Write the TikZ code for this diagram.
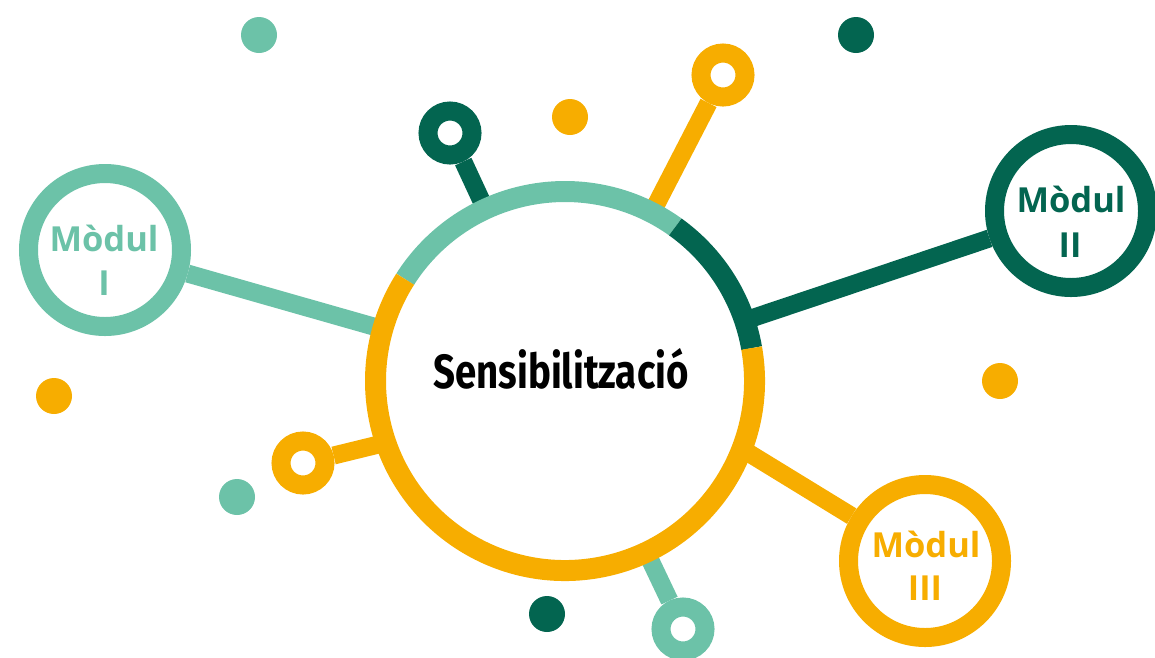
\documentclass[tikz,border=0pt]{standalone}
\usepackage{fontspec}
\usepackage{graphicx}
\newfontfamily\modfont{Open Sans}
\newfontfamily\titlefont{Fira Sans}
\definecolor{mteal}{HTML}{6CC2A8}
\definecolor{mdark}{HTML}{036550}
\definecolor{morange}{HTML}{F7AD00}
\begin{document}
\begin{tikzpicture}[x=1pt,y=-1pt,
  spoke/.style={line width=18pt},
  modring/.style={circle, draw=#1, fill=white, line width=19pt, minimum size=153pt, inner sep=0pt},
  smallring/.style={circle, draw=#1, fill=white, line width=19pt, minimum size=44pt, inner sep=0pt},
  fdot/.style={circle, fill, minimum size=36pt, inner sep=0pt},
  modtext/.style={font=\modfont\bfseries\fontsize{34.5}{40}\selectfont, anchor=base, inner sep=0pt},
  ringseg/.style={line width=21pt},
]
\useasboundingbox (0,0) rectangle (1155,657);
% decorative dots
\node[fdot, mteal] (d1) at (259,35) {};
\node[fdot, mdark] (d2) at (856,35) {};
\node[fdot, morange] (d3) at (570,117) {};
\node[fdot, morange] (d4) at (54,396) {};
\node[fdot, mteal] (d5) at (237,497) {};
\node[fdot, mdark] (d6) at (547,614) {};
\node[fdot, morange] (d7) at (1000,381) {};
% central node
\node[circle, minimum size=379pt, inner sep=0pt] (sens) at (565,381) {};
% modules and small rings
\node[modring=mteal] (m1) at (105,250) {};
\node[modring=mdark] (m2) at (1071,211) {};
\node[modring=morange] (m3) at (925,561) {};
\node[smallring=mdark] (s1) at (450,133) {};
\node[smallring=morange] (s2) at (723,75) {};
\node[smallring=morange] (s3) at (303,463) {};
\node[smallring=mteal] (s4) at (683,629) {};
% spokes
\draw[spoke, mteal] (m1) -- (sens);
\draw[spoke, mdark] (m2) -- (sens);
\draw[spoke, morange] (m3) -- (sens.-21.8);
\draw[spoke, mdark] (s1) -- (sens);
\draw[spoke, morange] (s2) -- (sens);
\draw[spoke, morange] (s3) -- (sens.199);
\draw[spoke, mteal] (s4) -- (sens);
% central ring segments
\draw[ringseg, mteal] (sens.center) ++(-147.5:189.5) arc[start angle=-147.5, end angle=-54.4, radius=189.5];
\draw[ringseg, mdark] (sens.center) ++(-54.4:189.5) arc[start angle=-54.4, end angle=-10, radius=189.5];
\draw[ringseg, morange] (sens.center) ++(-10:189.5) arc[start angle=-10, end angle=212.5, radius=189.5];
% texts
\node[anchor=base, inner sep=0pt] (senst) at (561,388) {\scalebox{0.8}[1]{\titlefont\bfseries\fontsize{48}{48}\selectfont Sensibilització}};
\node[modtext, mteal] (m1a) at (104,251) {Mòdul};
\node[modtext, mteal] (m1b) at (104,295) {I};
\node[modtext, mdark] (m2a) at (1071,212) {Mòdul};
\node[modtext, mdark] (m2b) at (1070,257) {II};
\node[modtext, morange] (m3a) at (926,557) {Mòdul};
\node[modtext, morange] (m3b) at (925,600) {III};
\end{tikzpicture}
\end{document}
